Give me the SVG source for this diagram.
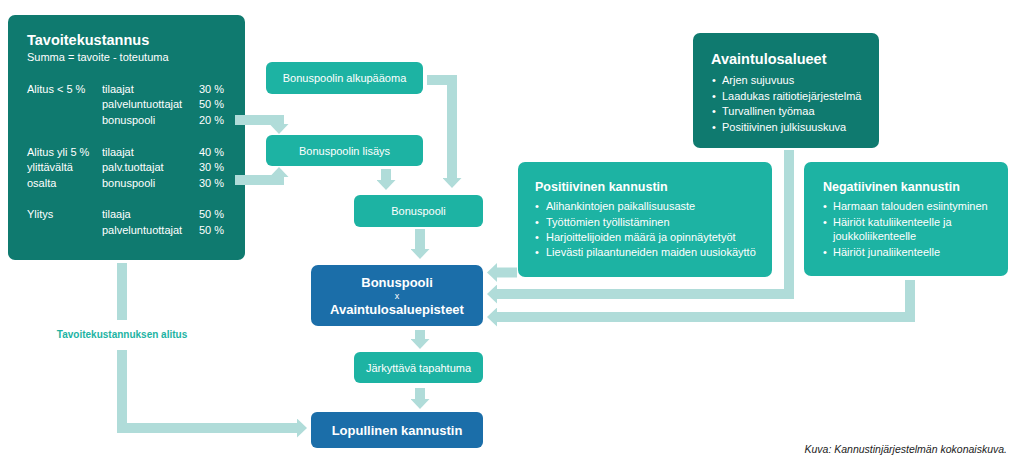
<svg xmlns="http://www.w3.org/2000/svg" width="1023" height="470" viewBox="0 0 1023 470">
<style>
text{font-family:"Liberation Sans",Arial,sans-serif;fill:#fff}
.dark{fill:#0f7a6f}
.mid{fill:#1db3a3}
.blue{fill:#1b6ea9}
.t{font-size:11px}
.b{font-weight:bold}
.c{text-anchor:middle}
.con{fill:none;stroke:#b0dcd9;stroke-width:10;stroke-linejoin:miter}
.lbl{fill:#1db3a3;font-size:10px;font-weight:bold}
.cap{fill:#222;font-size:10.5px;font-style:italic}
</style>
<defs>
<marker id="ah" markerUnits="userSpaceOnUse" markerWidth="10" markerHeight="19" viewBox="0 0 10 19" refX="0" refY="9.5" orient="auto">
<path d="M0,0 L10,9.5 L0,19 z" fill="#b0dcd9"/>
</marker>
</defs>
<rect width="1023" height="470" fill="#fff"/>

<g id="tavoitekustannus">
<rect x="8" y="15" width="237" height="245" rx="7" class="dark"/>
<text x="27" y="45" class="b" font-size="14.5">Tavoitekustannus</text>
<text x="27" y="61" font-size="11">Summa = tavoite - toteutuma</text>
<g font-size="11">
<text x="27" y="93">Alitus &lt; 5 %</text>
<text x="102" y="93">tilaajat</text><text x="199" y="93">30 %</text>
<text x="102" y="108">palveluntuottajat</text><text x="199" y="108">50 %</text>
<text x="102" y="124">bonuspooli</text><text x="199" y="124">20 %</text>
<text x="27" y="156">Alitus yli 5 %</text>
<text x="27" y="171">ylittävältä</text>
<text x="27" y="187">osalta</text>
<text x="102" y="156">tilaajat</text><text x="199" y="156">40 %</text>
<text x="102" y="171">palv.tuottajat</text><text x="199" y="171">30 %</text>
<text x="102" y="187">bonuspooli</text><text x="199" y="187">30 %</text>
<text x="27" y="218">Ylitys</text>
<text x="102" y="218">tilaaja</text><text x="199" y="218">50 %</text>
<text x="102" y="234">palveluntuottajat</text><text x="199" y="234">50 %</text>
</g>
</g>

<g id="connectors">
<path class="con" d="M427,80 H452 V178" marker-end="url(#ah)"/>
<path class="con" d="M386,169 V180" marker-end="url(#ah)"/>
<path class="con" d="M235,120 H279 V124" marker-end="url(#ah)"/>
<path class="con" d="M235,180 H279 V177" marker-end="url(#ah)"/>
<path class="con" d="M420,229 V249" marker-end="url(#ah)"/>
<path class="con" d="M420,330 V339" marker-end="url(#ah)"/>
<path class="con" d="M420,388 V399" marker-end="url(#ah)"/>
<path class="con" d="M122,263 V320"/>
<path class="con" d="M122,350 V428 H297" marker-end="url(#ah)"/>
<path class="con" d="M517,272.5 H497" marker-end="url(#ah)"/>
<path class="con" d="M789,150 V294 H497" marker-end="url(#ah)"/>
<path class="con" d="M910,280 V317 H497" marker-end="url(#ah)"/>
<text x="122" y="338" class="lbl c">Tavoitekustannuksen alitus</text>
</g>

<g id="alkupaaoma">
<rect x="266" y="62" width="157" height="32" rx="6" class="mid"/>
<text x="344.5" y="82" class="t c">Bonuspoolin alkupääoma</text>
</g>
<g id="lisays">
<rect x="266" y="135" width="157" height="31" rx="6" class="mid"/>
<text x="344.5" y="154.5" class="t c">Bonuspoolin lisäys</text>
</g>
<g id="bonuspooli">
<rect x="354" y="195" width="129" height="32" rx="6" class="mid"/>
<text x="418.5" y="215" class="t c">Bonuspooli</text>
</g>
<g id="bonuspooli-x">
<rect x="311" y="265" width="172" height="61" rx="7" class="blue"/>
<text x="397" y="287" class="b c" font-size="13">Bonuspooli</text>
<text x="397" y="299" class="c" font-size="9">x</text>
<text x="397" y="314" class="b c" font-size="13">Avaintulosaluepisteet</text>
</g>
<g id="jarkyttava">
<rect x="354" y="352" width="129" height="31" rx="6" class="mid"/>
<text x="418.5" y="371.5" class="t c">Järkyttävä tapahtuma</text>
</g>
<g id="lopullinen">
<rect x="311" y="412" width="172" height="36" rx="6" class="blue"/>
<text x="397" y="435" class="b c" font-size="13">Lopullinen kannustin</text>
</g>

<g id="avaintulosalueet">
<rect x="693" y="33" width="186" height="115" rx="7" class="dark"/>
<text x="711" y="64" class="b" font-size="14.5">Avaintulosalueet</text>
<g class="t">
<text x="712" y="84">•</text><text x="722" y="84">Arjen sujuvuus</text>
<text x="712" y="99.5">•</text><text x="722" y="99.5">Laadukas raitiotiejärjestelmä</text>
<text x="712" y="115">•</text><text x="722" y="115">Turvallinen työmaa</text>
<text x="712" y="131">•</text><text x="722" y="131">Positiivinen julkisuuskuva</text>
</g>
</g>

<g id="positiivinen">
<rect x="518" y="162" width="254" height="115" rx="7" class="mid"/>
<text x="535" y="191" class="b" font-size="12.5">Positiivinen kannustin</text>
<g class="t">
<text x="535" y="210">•</text><text x="546" y="210">Alihankintojen paikallisuusaste</text>
<text x="535" y="225.5">•</text><text x="546" y="225.5">Työttömien työllistäminen</text>
<text x="535" y="241">•</text><text x="546" y="241">Harjoittelijoiden määrä ja opinnäytetyöt</text>
<text x="535" y="256">•</text><text x="546" y="256">Lievästi pilaantuneiden maiden uusiokäyttö</text>
</g>
</g>

<g id="negatiivinen">
<rect x="804" y="162" width="204" height="114" rx="7" class="mid"/>
<text x="823" y="191" class="b" font-size="12.5">Negatiivinen kannustin</text>
<g class="t">
<text x="823" y="210">•</text><text x="833" y="210">Harmaan talouden esiintyminen</text>
<text x="823" y="225.5">•</text><text x="833" y="225.5">Häiriöt katuliikenteelle ja</text>
<text x="833" y="240">joukkoliikenteelle</text>
<text x="823" y="256">•</text><text x="833" y="256">Häiriöt junaliikenteelle</text>
</g>
</g>

<text x="1007" y="453" class="cap" text-anchor="end">Kuva: Kannustinjärjestelmän kokonaiskuva.</text>
</svg>
